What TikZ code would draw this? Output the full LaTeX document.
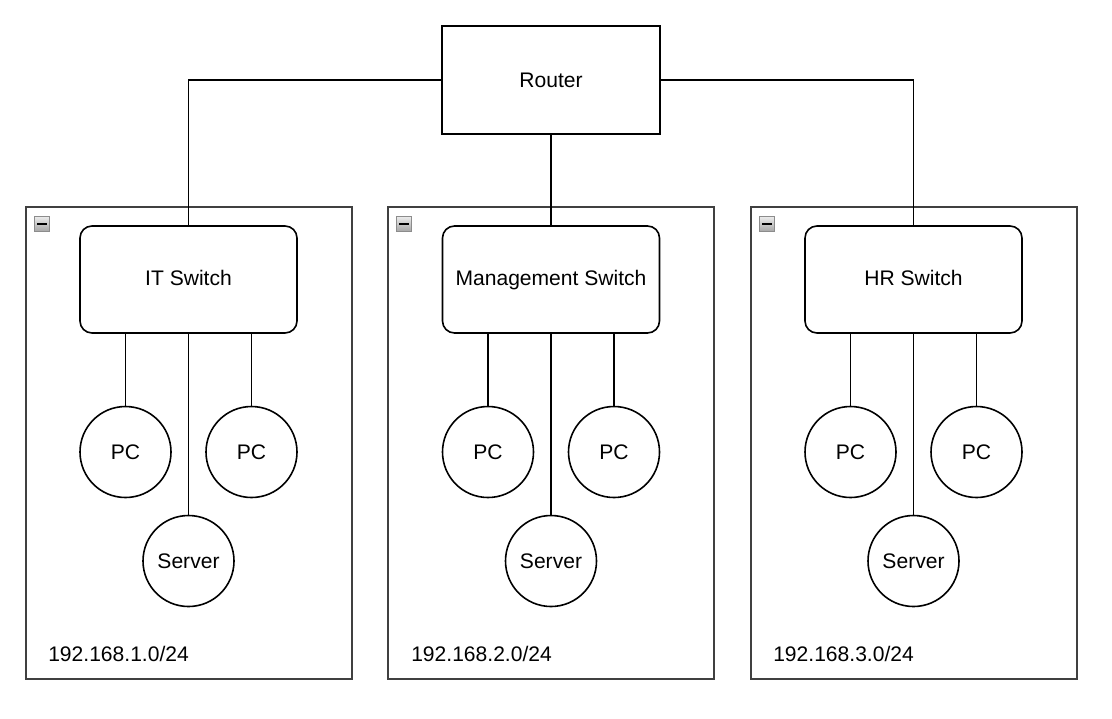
\documentclass[tikz,border=0pt]{standalone}
\usepackage{fontspec}
\setmainfont{Liberation Sans}
\usepackage{tikz}
\usetikzlibrary{arrows.meta}

\tikzset{
  net/.style={line width=1.2pt},
  group/.style={draw=black!75, line width=1.2pt, minimum width=244.5pt, minimum height=354pt},
  router/.style={draw, line width=1.2pt, minimum width=163.5pt, minimum height=81pt},
  switchbox/.style={draw, line width=1.2pt, rounded corners=9pt, minimum width=162.75pt, minimum height=80.25pt, text height=0.95em, text depth=0pt},
  host/.style={draw, circle, line width=1.2pt, minimum size=68.25pt, inner sep=0pt},
  minusbox/.style={draw=black!45, line width=0.9pt, top color=black!8, bottom color=black!35, minimum size=11pt, inner sep=0pt},
  subnet/.style={anchor=west, inner sep=0pt}
}

\begin{document}
\begin{tikzpicture}[x=0.75pt, y=-0.75pt, every node/.style={font=\fontsize{15.8}{18}\selectfont}]
\useasboundingbox[fill=white] (0,0) rectangle (1112,718);
\node[group] (itgrp) at (189,443) {};
\node[group] (mggrp) at (551,443) {};
\node[group] (hrgrp) at (914,443) {};
\node[minusbox] (itmin) at (42,224) {};
\node[minusbox] (mgmin) at (404,224) {};
\node[minusbox] (hrmin) at (767,224) {};
\foreach \m in {itmin,mgmin,hrmin}
  \draw[line width=1.7pt] ([xshift=-3.4pt]\m.center) -- ([xshift=3.4pt]\m.center);
\node[router] (router) at (551,80) {Router};
\node[switchbox] (itsw) at (188.5,279.5) {IT Switch};
\node[switchbox] (mgsw) at (551,279.5) {Management Switch};
\node[switchbox] (hrsw) at (913.5,279.5) {HR Switch};
\node[host] (itpc1) at (125.5,452) {PC};
\node[host] (itpc2) at (251.5,452) {PC};
\node[host] (itsrv) at (188.5,561) {Server};
\node[host] (mgpc1) at (488,452) {PC};
\node[host] (mgpc2) at (614,452) {PC};
\node[host] (mgsrv) at (551,561) {Server};
\node[host] (hrpc1) at (850.5,452) {PC};
\node[host] (hrpc2) at (976.5,452) {PC};
\node[host] (hrsrv) at (913.5,561) {Server};
\node[subnet] (itnet) at (48,654) {192.168.1.0/24};
\node[subnet] (mgnet) at (411,654) {192.168.2.0/24};
\node[subnet] (hrnet) at (773,654) {192.168.3.0/24};
\draw[net] (router.west) -| (itsw.north);
\draw[net] (router.south) -- (mgsw.north);
\draw[net] (router.east) -| (hrsw.north);
\draw[net] (itpc1.north) -- (itpc1.north |- itsw.south);
\draw[net] (itpc2.north) -- (itpc2.north |- itsw.south);
\draw[net] (itsrv.north) -- (itsw.south);
\draw[net] (mgpc1.north) -- (mgpc1.north |- mgsw.south);
\draw[net] (mgpc2.north) -- (mgpc2.north |- mgsw.south);
\draw[net] (mgsrv.north) -- (mgsw.south);
\draw[net] (hrpc1.north) -- (hrpc1.north |- hrsw.south);
\draw[net] (hrpc2.north) -- (hrpc2.north |- hrsw.south);
\draw[net] (hrsrv.north) -- (hrsw.south);
\end{tikzpicture}
\end{document}
